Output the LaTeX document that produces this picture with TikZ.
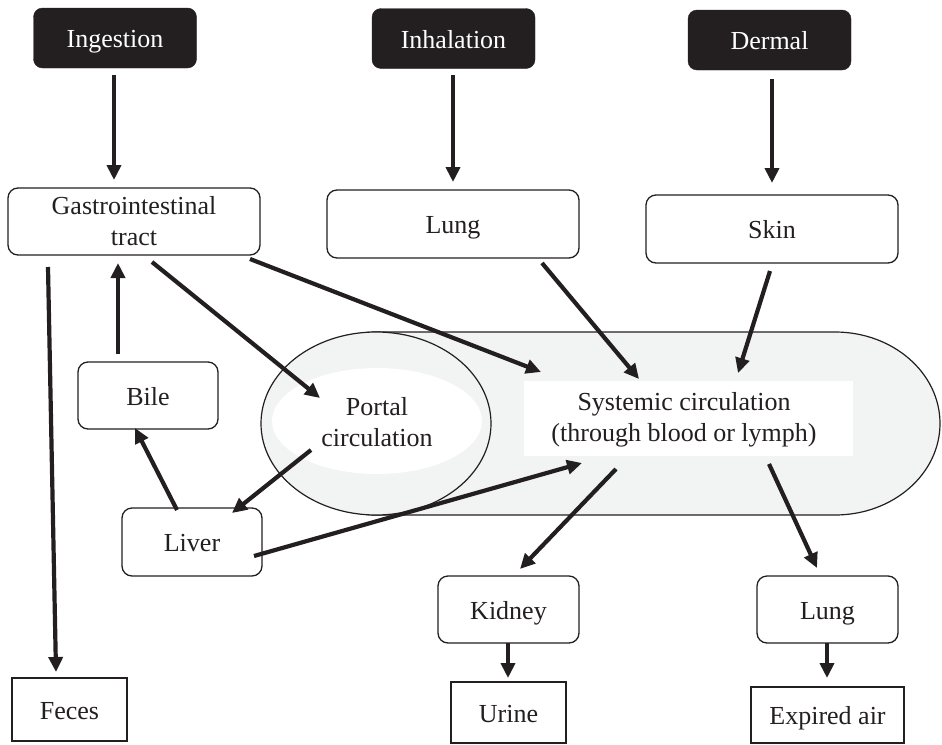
\documentclass[tikz,border=0pt]{standalone}
\usepackage{fontspec}
\setmainfont{Liberation Serif}
\usetikzlibrary{arrows.meta,calc}
\definecolor{ink}{HTML}{231F20}
\definecolor{lightfill}{HTML}{F2F3F3}
\begin{document}
\begin{tikzpicture}[x=1pt,y=1pt,
 every node/.style={font=\fontsize{26}{31}\selectfont, text=ink, inner sep=0pt, align=center},
 oneline/.style={text height=21pt, text depth=2pt},
 darkbox/.style={oneline, fill=ink, draw=ink, text=white, rounded corners=9pt, minimum width=163pt, minimum height=60pt},
 roundbox/.style={draw=ink, line width=1.3pt, fill=white, rounded corners=10pt},
 sqbox/.style={oneline, draw=ink, line width=1.3pt, fill=white},
 arr/.style={draw=ink, line width=4.2pt, -{Triangle[length=15pt,width=14pt]}},
 outline/.style={draw=ink, line width=1.2pt},
]
\useasboundingbox (0,0) rectangle (942,-744);

% circulation background
\path[outline, fill=lightfill] (376,-332) -- (835,-332)
  arc[start angle=90, end angle=-90, x radius=105, y radius=91.5]
  -- (376,-515) arc[start angle=270, end angle=90, radius=91.5] -- cycle;
\path[outline, fill=lightfill] (376,-423.5) ellipse[x radius=115, y radius=91.5];
\fill[white] (377,-421) ellipse[x radius=105, y radius=53];
\fill[white] (524,-381) rectangle (853,-456);

\node (portal) at (377,-422) {Portal\\circulation};
\node (sys) at (684,-420) {Systemic circulation\\(through blood or lymph)};

% route boxes
\node[darkbox] (ing) at (115,-38) {Ingestion};
\node[darkbox] (inh) at (453.5,-38.5) {Inhalation};
\node[darkbox] (der) at (769.5,-40) {Dermal};

\node[roundbox, minimum width=252pt, minimum height=67pt] (gi) at (134,-221.5) {Gastrointestinal\\tract};
\node[roundbox, oneline, minimum width=252pt, minimum height=68pt] (lung) at (453,-224) {Lung};
\node[roundbox, oneline, minimum width=252pt, minimum height=68pt] (skin) at (772,-229) {Skin};

\node[roundbox, oneline, minimum width=140pt, minimum height=67pt] (bile) at (148,-395.5) {Bile};
\node[roundbox, oneline, minimum width=140pt, minimum height=68pt] (liver) at (192,-542) {Liver};
\node[roundbox, oneline, minimum width=141pt, minimum height=67pt] (kidney) at (508.5,-609.5) {Kidney};
\node[roundbox, oneline, minimum width=141pt, minimum height=67pt] (lung2) at (827.5,-609.5) {Lung};

\node[sqbox, minimum width=115pt, minimum height=63pt] (feces) at (69.5,-709.5) {Feces};
\node[sqbox, minimum width=115pt, minimum height=61pt] (urine) at (508.5,-712.5) {Urine};
\node[sqbox, minimum width=153pt, minimum height=56pt] (expired) at (827.5,-715) {Expired air};

% arrow end points
\coordinate (a1) at (114,-75);   \coordinate (b1) at (114,-180);
\coordinate (a2) at (453,-75);   \coordinate (b2) at (453,-182);
\coordinate (a3) at (772,-79);   \coordinate (b3) at (772,-183);
\coordinate (a4) at (152,-262);  \coordinate (b4) at (320,-398);
\coordinate (a5) at (250,-259);  \coordinate (b5) at (541,-372);
\coordinate (a6) at (542,-263);  \coordinate (b6) at (639,-379);
\coordinate (a7) at (770,-271);  \coordinate (b7) at (738,-373);
\coordinate (a8) at (311,-450);  \coordinate (b8) at (232,-513);
\coordinate (a9) at (254,-556);  \coordinate (b9) at (582,-463);
\coordinate (a10) at (616,-469); \coordinate (b10) at (520,-569);
\coordinate (a11) at (769,-464); \coordinate (b11) at (817,-568);
\coordinate (a12) at (177,-510); \coordinate (b12) at (135,-428);
\coordinate (a13) at (118,-354); \coordinate (b13) at (118,-263);
\coordinate (a14) at (48,-267);  \coordinate (b14) at (56,-672);
\coordinate (a15) at (508,-643); \coordinate (b15) at (508,-678);
\coordinate (a16) at (827,-643); \coordinate (b16) at (827,-678);

\foreach \i in {1,...,16} { \draw[arr] (a\i) -- (b\i); }
\end{tikzpicture}
\end{document}
